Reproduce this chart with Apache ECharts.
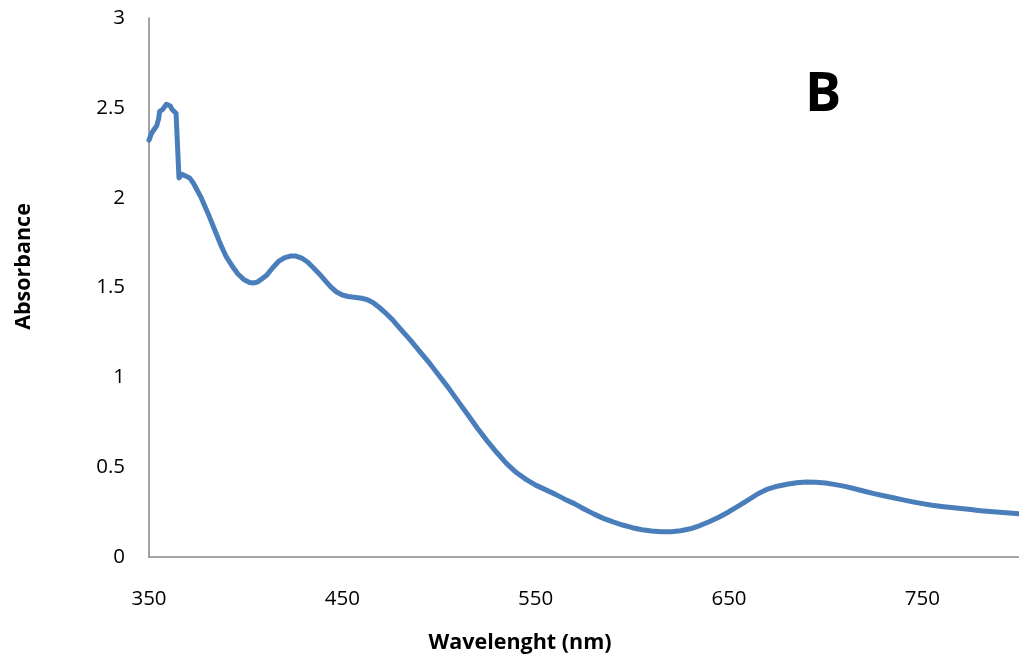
<!DOCTYPE html>
<html>
<head>
<meta charset="utf-8">
<title>Absorbance spectrum B</title>
<script src="https://cdn.jsdelivr.net/npm/echarts@6/dist/echarts.min.js"></script>
<style>
  html, body { margin: 0; padding: 0; background: #ffffff; }
  #chart { width: 1019px; height: 659px; }
</style>
</head>
<body>
<div id="chart"></div>
<script>
// Wavelength (nm) and measured absorbance of sample B
const wavelength = [
  350, 351, 352, 353, 354, 355, 355.5, 356, 357, 358, 359, 360, 361, 362, 363, 364, 365,
  365.5, 366, 367, 369, 371, 373, 375, 377, 379, 381, 384, 387, 390, 393, 396, 399,
  402, 404, 406, 408, 411, 414, 417, 420, 423, 426, 429, 432, 435, 438, 441, 444, 447,
  450, 453, 456, 460, 463, 466, 469, 472, 476, 480, 485, 490, 495, 500, 505, 510, 515,
  520, 525, 530, 535, 540, 545, 550, 555, 560, 565, 570, 575, 580, 585, 590, 595, 600,
  605, 610, 615, 620, 625, 630, 635, 640, 645, 650, 655, 660, 665, 670, 675, 680, 685,
  690, 695, 700, 705, 710, 715, 720, 725, 730, 735, 740, 745, 750, 755, 760, 765, 770,
  775, 780, 785, 790, 795, 800
];
const absorbance = [
  2.32, 2.35, 2.37, 2.38, 2.40, 2.44, 2.48, 2.48, 2.49, 2.50, 2.52, 2.52, 2.51, 2.49, 2.49, 2.47, 2.46,
  2.11, 2.12, 2.13, 2.12, 2.11, 2.08, 2.04, 2.00, 1.95, 1.90, 1.82, 1.74, 1.67, 1.62, 1.575, 1.545,
  1.528, 1.525, 1.53, 1.545, 1.57, 1.61, 1.645, 1.665, 1.675, 1.675, 1.663, 1.642, 1.61, 1.577, 1.54, 1.503, 1.475,
  1.458, 1.45, 1.446, 1.44, 1.432, 1.415, 1.39, 1.362, 1.32, 1.27, 1.21, 1.145, 1.08, 1.01, 0.94, 0.865, 0.79,
  0.715, 0.645, 0.58, 0.52, 0.47, 0.432, 0.40, 0.375, 0.35, 0.322, 0.297, 0.267, 0.24, 0.215, 0.195, 0.178, 0.163,
  0.152, 0.145, 0.141, 0.141, 0.146, 0.157, 0.175, 0.198, 0.223, 0.252, 0.285, 0.318, 0.352, 0.378, 0.394, 0.405, 0.413,
  0.417, 0.416, 0.412, 0.403, 0.393, 0.38, 0.366, 0.353, 0.341, 0.33, 0.318, 0.307, 0.297, 0.288, 0.281, 0.275, 0.27,
  0.264, 0.258, 0.253, 0.249, 0.245, 0.241
];

// Axis settings
const xMin = 350, xMax = 800, xStep = 100;
const yMin = 0, yMax = 3, yStep = 0.5;

const FONT = '"Open Sans", "Liberation Sans", sans-serif';

const chart = echarts.init(document.getElementById('chart'), null, { renderer: 'canvas' });

chart.setOption({
  backgroundColor: '#ffffff',
  animation: false,
  grid: { left: 149, top: 18, bottom: 102, right: -7, containLabel: false },
  xAxis: {
    type: 'value',
    min: xMin,
    max: xMax,
    interval: xStep,
    name: 'Wavelenght (nm)',
    nameLocation: 'middle',
    nameGap: 75,
    nameTextStyle: {
      fontFamily: FONT, fontSize: 21.5, fontWeight: 'bold', color: '#000000',
      padding: [0, 128, 0, 0]
    },
    axisLine: { show: true, lineStyle: { color: '#868686', width: 1.5 } },
    axisTick: { show: false },
    splitLine: { show: false },
    axisLabel: {
      margin: 32, fontFamily: FONT, fontSize: 20.5, color: '#000000',
      showMaxLabel: false
    }
  },
  yAxis: {
    type: 'value',
    min: yMin,
    max: yMax,
    interval: yStep,
    name: 'Absorbance',
    nameLocation: 'middle',
    nameRotate: 90,
    nameGap: 114,
    nameTextStyle: {
      fontFamily: FONT, fontSize: 21.5, fontWeight: 'bold', color: '#000000',
      padding: [0, 0, 0, 42]
    },
    axisLine: { show: true, lineStyle: { color: '#868686', width: 1.5 } },
    axisTick: { show: false },
    splitLine: { show: false },
    axisLabel: { margin: 24, fontFamily: FONT, fontSize: 20.5, color: '#000000' }
  },
  series: [{
    type: 'line',
    data: wavelength.map((w, i) => [w, absorbance[i]]),
    showSymbol: false,
    smooth: false,
    clip: false,
    lineStyle: { color: '#4a7ebb', width: 5, join: 'round', cap: 'round' }
  }],
  graphic: [{
    type: 'text',
    left: 805,
    top: 69,
    style: {
      text: 'B',
      fontFamily: FONT,
      fontSize: 54,
      fontWeight: 'bold',
      fill: '#000000'
    }
  }]
});
</script>
</body>
</html>
